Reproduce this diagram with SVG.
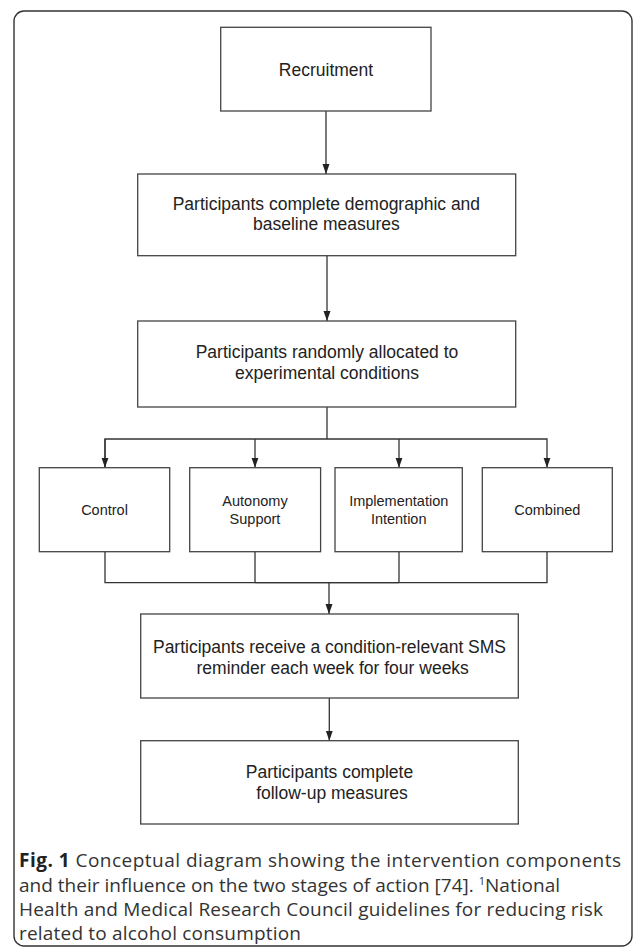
<svg xmlns="http://www.w3.org/2000/svg" width="633" height="949" viewBox="0 0 633 949">
<style>
.box{fill:#fff;stroke:#444;stroke-width:1.3}
.t{font-family:"Liberation Sans",Arial,sans-serif;font-size:17.5px;fill:#222;text-anchor:middle}
.s{font-family:"Liberation Sans",Arial,sans-serif;font-size:14.5px;fill:#222;text-anchor:middle}
.ln{fill:none;stroke:#333;stroke-width:1.3}
.cap{font-family:"Open Sans","Noto Sans",sans-serif;font-size:19px;fill:#333}
</style>
<defs>
<marker id="ah" viewBox="0 0 10 10" refX="10" refY="5" markerWidth="10" markerHeight="10" markerUnits="userSpaceOnUse" orient="auto">
<path d="M0,1.5 L10,5 L0,8.5 Z" fill="#222"/>
</marker>
</defs>
<rect x="14" y="11" width="618" height="935" rx="10" fill="#fff" stroke="#333" stroke-width="1.4"/>
<g id="connectors">
<line class="ln" x1="326" y1="111" x2="326" y2="174" marker-end="url(#ah)"/>
<line class="ln" x1="327" y1="256" x2="327" y2="321" marker-end="url(#ah)"/>
<polyline class="ln" points="327,407 327,439"/>
<polyline class="ln" points="105,467.7 105,439 547,439 547,467.7" marker-end="url(#ah)"/>
<line class="ln" x1="105" y1="439" x2="105" y2="467.7" marker-end="url(#ah)"/>
<line class="ln" x1="255" y1="439" x2="255" y2="467.7" marker-end="url(#ah)"/>
<line class="ln" x1="399" y1="439" x2="399" y2="467.7" marker-end="url(#ah)"/>
<polyline class="ln" points="105,551.7 105,582.7 547,582.7 547,551.7"/>
<line class="ln" x1="255" y1="551.7" x2="255" y2="582.7" stroke-width="1.6"/>
<line class="ln" x1="399" y1="551.7" x2="399" y2="582.7"/>
<line class="ln" x1="255" y1="582.7" x2="399" y2="582.7" stroke-width="1.6"/>
<line class="ln" x1="329" y1="582.7" x2="329" y2="614" marker-end="url(#ah)"/>
<line class="ln" x1="329.3" y1="698" x2="329.3" y2="740.7" marker-end="url(#ah)"/>
</g>
<g id="recruitment">
<rect class="box" x="220.7" y="27.3" width="210.3" height="83.7"/>
<text class="t" x="326" y="75.5">Recruitment</text>
</g>
<g id="baseline">
<rect class="box" x="137.7" y="174" width="378" height="81.7"/>
<text class="t" x="326.4" y="209.5">Participants complete demographic and</text>
<text class="t" x="326.4" y="230">baseline measures</text>
</g>
<g id="allocation">
<rect class="box" x="137.7" y="321" width="378" height="86"/>
<text class="t" x="327" y="358">Participants randomly allocated to</text>
<text class="t" x="327" y="379">experimental conditions</text>
</g>
<g id="control">
<rect class="box" x="39.3" y="467.7" width="130.4" height="84"/>
<text class="s" x="104.5" y="515">Control</text>
</g>
<g id="autonomy">
<rect class="box" x="189.7" y="467.7" width="130.9" height="84"/>
<text class="s" x="255" y="506">Autonomy</text>
<text class="s" x="255" y="523.5">Support</text>
</g>
<g id="implementation">
<rect class="box" x="335" y="467.7" width="127.3" height="84"/>
<text class="s" x="398.7" y="506">Implementation</text>
<text class="s" x="398.7" y="523.5">Intention</text>
</g>
<g id="combined">
<rect class="box" x="482.3" y="467.7" width="130" height="84"/>
<text class="s" x="547.3" y="515">Combined</text>
</g>
<g id="sms">
<rect class="box" x="140.7" y="614" width="377.6" height="84"/>
<text class="t" x="329.5" y="652.5">Participants receive a condition-relevant SMS</text>
<text class="t" x="332.7" y="673.5">reminder each week for four weeks</text>
</g>
<g id="followup">
<rect class="box" x="140.7" y="740.7" width="377.6" height="83.3"/>
<text class="t" x="329.5" y="777.5">Participants complete</text>
<text class="t" x="332" y="798.5">follow-up measures</text>
</g>
<g id="caption">
<text class="cap" x="19" y="867" textLength="602" lengthAdjust="spacing"><tspan font-weight="bold" fill="#222">Fig. 1</tspan> Conceptual diagram showing the intervention components</text>
<text class="cap" x="19" y="891.5" textLength="541" lengthAdjust="spacing">and their influence on the two stages of action [74]. <tspan font-size="11" dy="-7">1</tspan><tspan dy="7">National</tspan></text>
<text class="cap" x="19" y="916" textLength="584" lengthAdjust="spacing">Health and Medical Research Council guidelines for reducing risk</text>
<text class="cap" x="19" y="940" textLength="282" lengthAdjust="spacing">related to alcohol consumption</text>
</g>
</svg>
